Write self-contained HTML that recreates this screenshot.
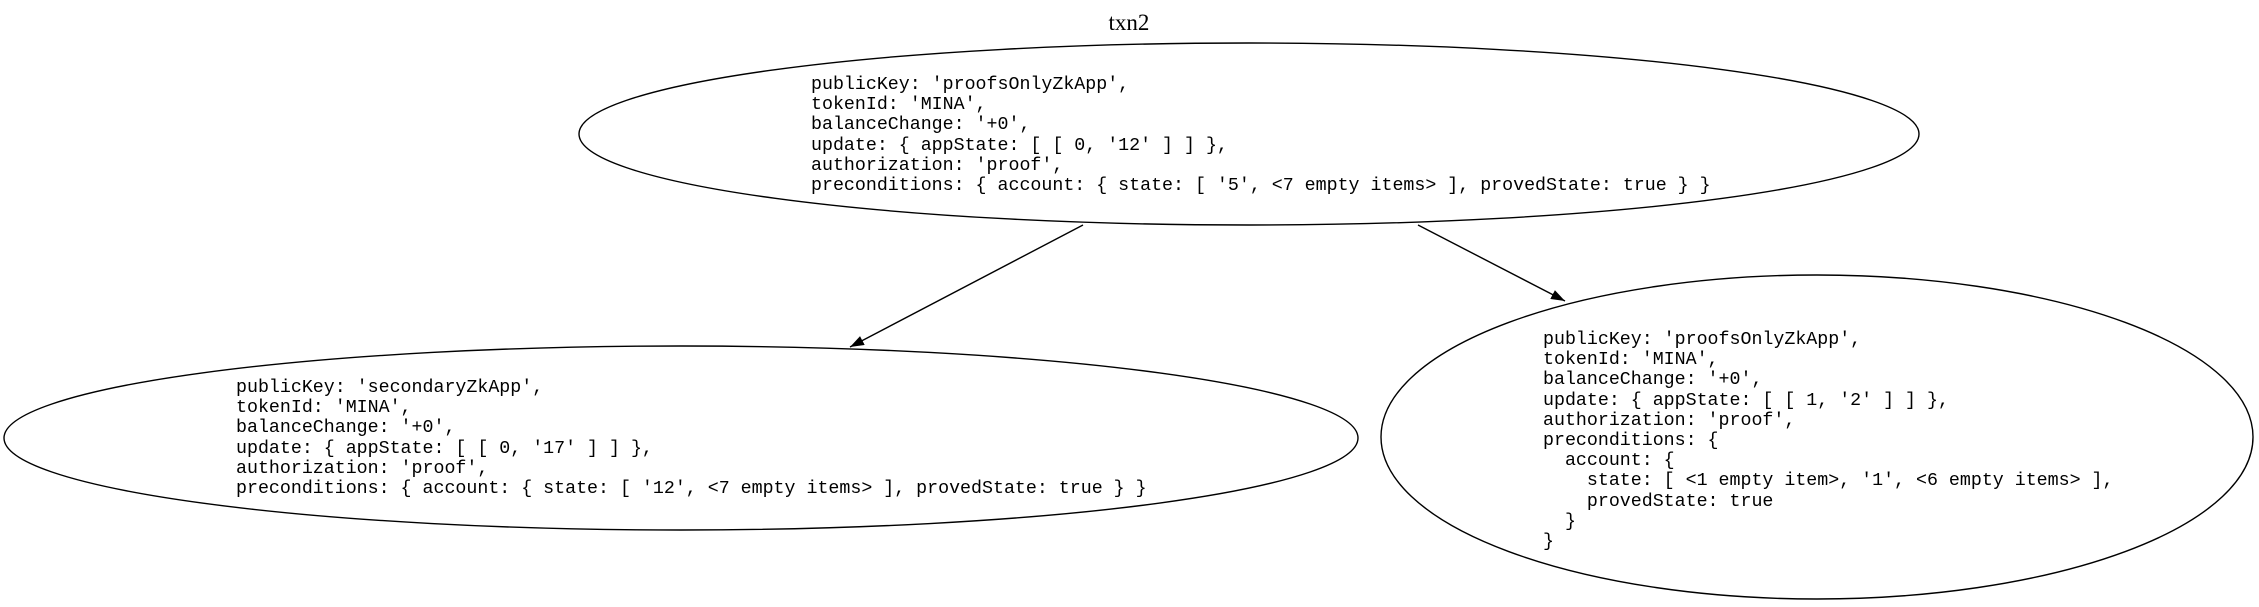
<!DOCTYPE html>
<html><head><meta charset="utf-8"><style>
html,body{margin:0;padding:0;background:#fff;width:2259px;height:607px;overflow:hidden}
svg text{font-family:"Liberation Mono",monospace;font-size:18.3px;fill:#000;white-space:pre}
</style></head><body>
<svg width="2259" height="607" viewBox="0 0 2259 607" xmlns="http://www.w3.org/2000/svg">
<defs><marker id="a" markerWidth="14" markerHeight="10" refX="14" refY="5" orient="auto" markerUnits="userSpaceOnUse" viewBox="0 0 14 10"><path d="M0,0 L14,5 L0,10 z" fill="#000"/></marker></defs>
<text x="1129" y="30" text-anchor="middle" style="font-family:'Liberation Serif',serif;font-size:23px">txn2</text>
<ellipse cx="1249" cy="134" rx="670" ry="91" fill="none" stroke="#000" stroke-width="1.4"/>
<ellipse cx="681" cy="438" rx="677" ry="92" fill="none" stroke="#000" stroke-width="1.4"/>
<ellipse cx="1817" cy="437" rx="436" ry="162" fill="none" stroke="#000" stroke-width="1.4"/>
<line x1="1083" y1="225" x2="850" y2="347" stroke="#000" stroke-width="1.4" marker-end="url(#a)"/>
<line x1="1418" y1="225" x2="1565" y2="301" stroke="#000" stroke-width="1.4" marker-end="url(#a)"/>
<text x="811" y="89">publicKey: 'proofsOnlyZkApp',</text>
<text x="811" y="109">tokenId: 'MINA',</text>
<text x="811" y="129">balanceChange: '+0',</text>
<text x="811" y="150">update: { appState: [ [ 0, '12' ] ] },</text>
<text x="811" y="170">authorization: 'proof',</text>
<text x="811" y="190">preconditions: { account: { state: [ '5', &lt;7 empty items&gt; ], provedState: true } }</text>
<text x="236" y="392">publicKey: 'secondaryZkApp',</text>
<text x="236" y="412">tokenId: 'MINA',</text>
<text x="236" y="432">balanceChange: '+0',</text>
<text x="236" y="453">update: { appState: [ [ 0, '17' ] ] },</text>
<text x="236" y="473">authorization: 'proof',</text>
<text x="236" y="493">preconditions: { account: { state: [ '12', &lt;7 empty items&gt; ], provedState: true } }</text>
<text x="1543" y="344">publicKey: 'proofsOnlyZkApp',</text>
<text x="1543" y="364">tokenId: 'MINA',</text>
<text x="1543" y="384">balanceChange: '+0',</text>
<text x="1543" y="405">update: { appState: [ [ 1, '2' ] ] },</text>
<text x="1543" y="425">authorization: 'proof',</text>
<text x="1543" y="445">preconditions: {</text>
<text x="1543" y="465">  account: {</text>
<text x="1543" y="485">    state: [ &lt;1 empty item&gt;, '1', &lt;6 empty items&gt; ],</text>
<text x="1543" y="506">    provedState: true</text>
<text x="1543" y="526">  }</text>
<text x="1543" y="546">}</text>
</svg>
</body></html>
